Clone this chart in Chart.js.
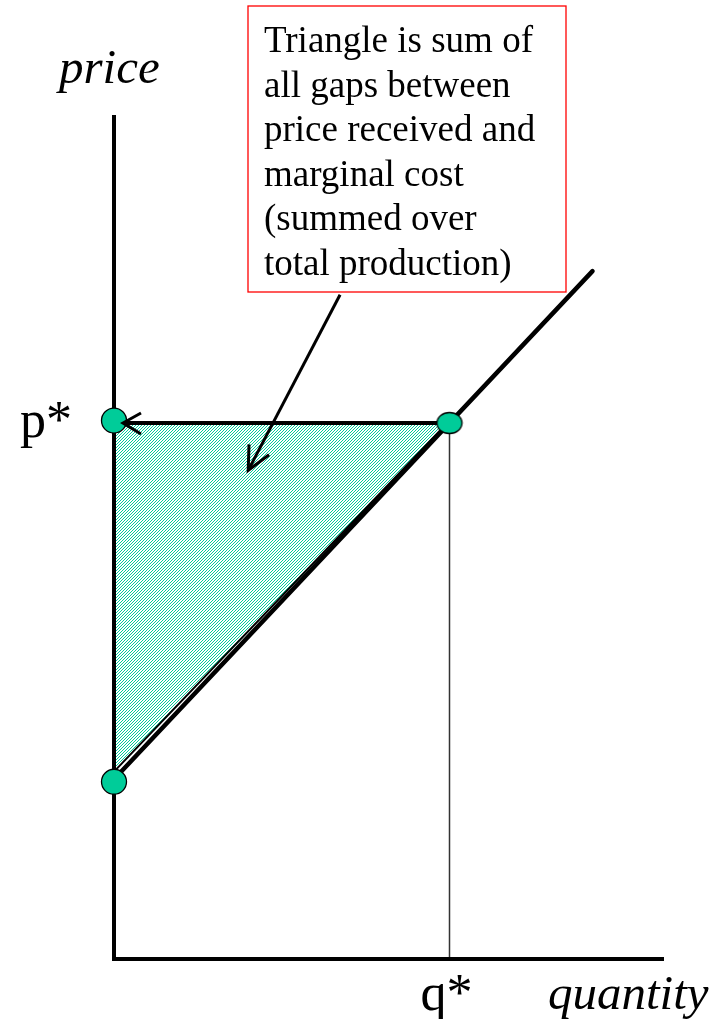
<!DOCTYPE html>
<html>
<head>
<meta charset="utf-8">
<script src="https://cdn.jsdelivr.net/npm/chart.js@4/dist/chart.umd.min.js"></script>
<style>
html,body{margin:0;padding:0;background:#fff;}
canvas{display:block;}
</style>
</head>
<body>
<canvas id="c" width="722" height="1019"></canvas>
<script>
// ---- data (abstract units: quantity 0..10, price 0..10) ----
const axisRange = [0, 10];
const supplyQ = [0, 8.7];          // marginal cost / supply line
const supplyP = [2.13, 8.15];
const qStar = 6.1;
const pStar = 6.35;
const triangleQ = [0, 6.06];       // lower edge of the shaded triangle
const triangleP = [2.22, 6.35];
const pointQ = [0, qStar, 0];
const pointP = [pStar + 0.03, pStar, 2.10];
const arrowFrom = [4.11, 7.87];    // annotation arrow (data units)
const arrowTo = [2.44, 5.79];
const noteLines = ["Triangle is sum of","all gaps between","price received and","marginal cost","(summed over","total production)"];

const TEAL = '#00CC99';
const SERIF = "'Liberation Serif','Times New Roman',serif";

// hatch pattern
const pc = document.createElement('canvas');
pc.width = 3; pc.height = 3;
const px = pc.getContext('2d');
px.fillStyle = '#fff'; px.fillRect(0,0,3,3);
px.fillStyle = TEAL;
px.fillRect(0,2,1,1); px.fillRect(1,1,1,1); px.fillRect(2,0,1,1);
const hatch = px.createPattern(pc, 'repeat');

// ellipse point style for the equilibrium point
const ec = document.createElement('canvas');
ec.width = 28; ec.height = 24;
const ex = ec.getContext('2d');
ex.beginPath(); ex.ellipse(14,12,12.5,10.5,0,0,Math.PI*2);
ex.fillStyle = TEAL; ex.fill(); ex.lineWidth = 1.3; ex.strokeStyle = '#000'; ex.stroke();

const pts = (qs, ps) => qs.map((q,i)=>({x:q, y:ps[i]}));

const overlay = {
  id: 'overlay',
  afterDatasetsDraw(chart) {
    const ctx = chart.ctx, xs = chart.scales.x, ys = chart.scales.y;
    ctx.save();
    // arrowhead at p* on the horizontal line
    const tx = xs.getPixelForValue(0) + 9, ty = ys.getPixelForValue(pStar);
    ctx.strokeStyle = '#000'; ctx.lineWidth = 3; ctx.lineCap = 'butt';
    ctx.beginPath();
    ctx.moveTo(tx + 18, ty - 10); ctx.lineTo(tx, ty); ctx.lineTo(tx + 18, ty + 11);
    ctx.stroke();
    // annotation arrow
    const x1 = xs.getPixelForValue(arrowFrom[0]), y1 = ys.getPixelForValue(arrowFrom[1]);
    const x2 = xs.getPixelForValue(arrowTo[0]), y2 = ys.getPixelForValue(arrowTo[1]);
    ctx.lineWidth = 3;
    ctx.beginPath(); ctx.moveTo(x1,y1); ctx.lineTo(x2,y2); ctx.stroke();
    const a = Math.atan2(y2-y1, x2-x1), L = 26, s = 0.45;
    ctx.beginPath();
    ctx.moveTo(x2 - L*Math.cos(a - s), y2 - L*Math.sin(a - s));
    ctx.lineTo(x2, y2);
    ctx.lineTo(x2 - L*Math.cos(a + s), y2 - L*Math.sin(a + s));
    ctx.stroke();
    // note box
    ctx.fillStyle = '#fff';
    ctx.fillRect(248, 6, 318, 286);
    ctx.strokeStyle = '#ff0000'; ctx.lineWidth = 1.3;
    ctx.strokeRect(248, 6, 318, 286);
    ctx.fillStyle = '#000';
    ctx.font = `37px ${SERIF}`;
    ctx.textBaseline = 'alphabetic'; ctx.textAlign = 'left';
    noteLines.forEach((t,i) => ctx.fillText(t, 264, 52 + i*44.6));
    // axis labels
    ctx.font = `italic 49px ${SERIF}`;
    ctx.fillText('price', 59, 83);
    ctx.fillText('quantity', 548, 1009);
    ctx.font = `52px ${SERIF}`;
    ctx.fillText('p*', 20, 437);
    ctx.textAlign = 'center';
    ctx.fillText('q*', xs.getPixelForValue(qStar) - 3, 1010);
    ctx.restore();
  }
};

new Chart(document.getElementById('c'), {
  type: 'scatter',
  data: {
    datasets: [
      { // points
        data: pts(pointQ, pointP), showLine: false, order: 0, clip: false,
        pointRadius: 12.5, pointStyle: ['circle', ec, 'circle'],
        pointBackgroundColor: TEAL, pointBorderColor: '#000', pointBorderWidth: 1.3
      },
      { // supply / MC
        data: pts(supplyQ, supplyP), showLine: true, order: 2, clip: false,
        borderColor: '#000', borderWidth: 4.5, pointRadius: 0, borderCapStyle: 'round'
      },
      { // p* line
        data: [{x:0,y:pStar},{x:qStar,y:pStar}], showLine: true, order: 2, clip: false,
        borderColor: '#000', borderWidth: 4, pointRadius: 0
      },
      { // q* drop line
        data: [{x:qStar,y:axisRange[0]},{x:qStar,y:pStar}], showLine: true, order: 3, clip: false,
        borderColor: '#333', borderWidth: 1.5, pointRadius: 0
      },
      { // axes
        data: [{x:0,y:axisRange[1]},{x:0,y:0},{x:axisRange[1],y:0}], showLine: true, order: 1, clip: false,
        borderColor: '#000', borderWidth: 4, pointRadius: 0, borderJoinStyle: 'miter'
      },
      { // triangle
        data: pts(triangleQ, triangleP), showLine: true, order: 4, clip: false,
        borderColor: '#000', borderWidth: 2, pointRadius: 0,
        fill: {value: pStar}, backgroundColor: hatch
      }
    ]
  },
  options: {
    responsive: false, animation: false, devicePixelRatio: 1, events: [],
    layout: { padding: { left: 114, right: 58, top: 115, bottom: 60 } },
    plugins: { legend: {display:false}, tooltip: {enabled:false}, title: {display:false} },
    scales: {
      x: { type: 'linear', min: axisRange[0], max: axisRange[1], display: false },
      y: { type: 'linear', min: axisRange[0], max: axisRange[1], display: false }
    }
  },
  plugins: [overlay]
});
</script>
</body>
</html>
